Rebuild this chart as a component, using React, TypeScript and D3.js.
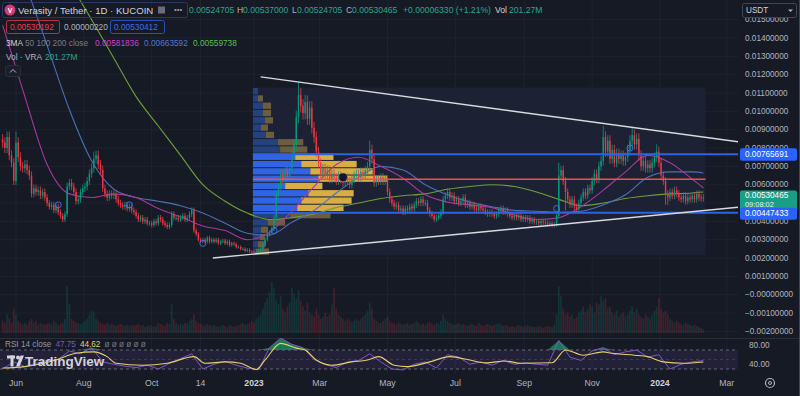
import React from "react";
import * as d3 from "d3";

const DAY = 86400000;
const candleStart = Date.UTC(2022, 4, 20);
const candleStep = 2; // days per candle

// prices in units of 0.001 USDT
const closes = [
  8.3, 8.0, 8.6, 7.6, 7.2, 6.2, 8.3, 7.5, 7.0, 6.9,
  7.1, 6.8, 6.5, 5.5, 5.8, 5.6, 5.7, 5.4, 5.6, 5.3,
  5.0, 4.8, 4.9, 4.6, 4.8, 4.5, 4.3, 4.1, 4.4, 5.9,
  6.1, 5.9, 5.6, 5.1, 5.2, 5.6, 5.8, 5.9, 6.2, 6.6,
  6.9, 7.4, 7.6, 7.1, 6.8, 5.8, 5.5, 5.3, 5.5, 5.4,
  5.5, 5.2, 5.0, 4.9, 4.8, 4.9, 4.7, 4.8, 4.6, 4.5,
  4.3, 4.1, 4.2, 4.0, 4.1, 3.9, 3.9, 3.8, 4.0, 3.9,
  4.2, 4.1, 3.9, 3.8, 3.7, 3.8, 4.4, 4.2, 4.2, 4.1,
  4.2, 4.3, 4.1, 4.2, 4.4, 4.6, 3.5, 3.3, 3.0, 2.9,
  3.0, 2.9, 3.1, 2.9, 3.0, 2.9, 3.0, 2.8, 2.9, 2.95,
  2.8, 2.9, 2.7, 2.8, 2.75, 2.6, 2.6, 2.5, 2.5, 2.4,
  2.45, 2.35, 2.3, 2.25, 2.3, 2.4, 2.5, 2.7, 3.0, 3.3,
  3.4, 3.6, 4.2, 5.5, 5.9, 6.6, 6.2, 6.8, 6.4, 6.9,
  7.6, 8.2, 9.7, 10.9, 10.3, 9.9, 10.5, 9.6, 10.2, 9.1,
  8.6, 7.8, 7.2, 6.6, 6.9, 6.5, 6.8, 6.3, 6.6, 6.4,
  6.2, 6.5, 6.3, 6.1, 6.4, 6.2, 6.0, 6.3, 6.5, 6.6,
  6.4, 6.7, 6.5, 6.8, 7.0, 7.9, 7.4, 6.1, 6.3, 6.2,
  6.4, 6.2, 6.3, 5.6, 5.2, 5.0, 4.8, 4.9, 4.6, 4.7,
  4.5, 4.7, 4.6, 4.8, 4.7, 4.9, 5.1, 5.0, 5.2, 5.0,
  5.0, 4.6, 4.4, 4.3, 4.1, 4.2, 4.3, 4.5, 5.2, 5.4,
  5.6, 5.3, 5.4, 5.1, 5.2, 5.0, 5.1, 5.3, 4.9, 5.0,
  4.8, 4.9, 4.7, 4.6, 4.8, 4.7, 4.6, 4.5, 4.4, 4.5,
  4.4, 4.3, 4.4, 4.6, 4.7, 4.5, 4.6, 4.4, 4.3, 4.2,
  4.3, 4.2, 4.3, 4.1, 4.2, 4.1, 4.2, 4.0, 4.1, 3.95,
  4.0, 3.9, 4.0, 3.95, 3.9, 3.85, 3.9, 3.8, 3.85, 4.3,
  6.5, 6.8, 6.2, 5.6, 5.2, 4.9, 5.2, 4.8, 4.7, 5.0,
  5.3, 5.6, 5.4, 5.8, 5.7, 6.2, 6.6, 6.3, 7.0, 7.3,
  8.6, 7.8, 8.4, 7.4, 7.9, 7.2, 7.7, 7.4, 7.6, 7.3,
  7.5, 7.9, 8.4, 8.7, 8.2, 8.5, 7.6, 7.0, 7.3, 6.9,
  7.1, 6.9, 7.2, 7.5, 7.8, 7.2, 6.5, 6.2, 5.5, 5.3,
  5.6, 5.4, 5.7, 5.5, 5.3, 5.2, 5.4, 5.1, 5.3, 5.2,
  5.4, 5.2, 5.5, 5.3, 5.25, 5.30465,
];

// volume in millions VRA
const volumes = [
  600, 500, 900, 700, 500, 1200, 900, 600, 500, 400,
  500, 400, 600, 700, 500, 600, 400, 500, 450, 400,
  450, 500, 400, 600, 500, 400, 450, 500, 700, 2300,
  1400, 700, 600, 500, 500, 450, 500, 600, 700, 900,
  1100, 1000, 700, 600, 500, 450, 400, 500, 400, 450,
  400, 350, 400, 450, 400, 350, 400, 350, 400, 350,
  400, 450, 350, 400, 300, 350, 400, 350, 300, 350,
  500, 450, 400, 350, 500, 450, 1400, 700, 500, 400,
  450, 400, 500, 450, 600, 700, 900, 600, 500, 450,
  400, 350, 450, 400, 350, 400, 350, 300, 350, 400,
  350, 300, 400, 350, 300, 350, 400, 450, 500, 400,
  450, 500, 600, 500, 700, 800, 900, 1200, 1500, 1700,
  2000, 2500, 2200, 1600, 1400, 1800, 1200, 1000, 1300, 1500,
  2200, 1900, 1700, 2100, 1600, 1300, 1100, 1500, 1000, 900,
  800, 1200, 900, 700, 800, 1000, 800, 900, 1400, 2200,
  1200, 900, 800, 700, 600, 700, 600, 500, 600, 700,
  600, 700, 800, 900, 1100, 1500, 1200, 700, 600, 500,
  500, 600, 700, 800, 600, 500, 450, 400, 500, 450,
  400, 450, 500, 400, 450, 500, 600, 500, 400, 450,
  400, 500, 550, 450, 400, 500, 450, 600, 900, 700,
  600, 500, 450, 400, 450, 500, 400, 450, 400, 350,
  400, 450, 400, 350, 500, 400, 350, 400, 450, 400,
  350, 400, 450, 500, 400, 350, 400, 350, 300, 350,
  300, 350, 400, 350, 300, 350, 400, 350, 300, 300,
  300, 350, 300, 250, 300, 350, 300, 300, 400, 900,
  2300, 1800, 1200, 900, 1000, 800, 900, 700, 800, 1000,
  1100, 1300, 1000, 1200, 1400, 1300, 1000, 1500, 1400, 1800,
  1600, 1700, 1200, 1300, 1000, 900, 1100, 800, 900, 1000,
  800, 900, 1100, 1300, 1000, 1200, 900, 800, 700, 900,
  800, 700, 900, 1100, 1300, 1700, 1200, 1000, 1100, 900,
  700, 600, 500, 600, 500, 450, 400, 500, 450, 400,
  350, 400, 350, 300, 250, 201,
];

// notable wicks [candle index, price]
const spikeHighs = [[6, 8.9], [41, 7.8], [133, 11.6], [136, 10.9], [165, 8.4], [250, 7.2], [270, 9.2], [283, 9.1], [294, 8.2]];
const spikeLows = [[113, 2.15], [253, 4.6], [298, 4.9], [299, 4.9]];

// moving averages, sampled at candle indices
const maIdx = [0, 10, 20, 30, 40, 50, 60, 70, 80, 90, 100, 110, 120, 130, 140, 150, 160, 170, 180, 190, 200, 210, 220, 230, 240, 250, 260, 270, 280, 290, 300, 310, 315];
const ma50 = [14.7, 10.8, 7.1, 5.5, 5.3, 5.5, 5.3, 4.7, 4.25, 3.75, 3.5, 3.0, 3.4, 4.55, 5.9, 7.1, 7.5, 7.0, 6.35, 5.45, 5.05, 4.9, 4.75, 4.35, 4.1, 4.2, 4.8, 5.7, 6.7, 7.6, 7.2, 6.3, 5.82];
const ma100 = [20, 17, 13.6, 10.1, 7.3, 5.75, 5.3, 5.1, 4.85, 4.45, 3.9, 3.35, 3.25, 3.95, 4.6, 5.55, 6.4, 7.0, 6.8, 6.0, 5.45, 5.05, 4.8, 4.6, 4.55, 4.5, 4.55, 4.9, 5.45, 6.4, 6.7, 6.7, 6.64];
const ma200 = [22, 20.5, 18.8, 17, 15.0, 12.9, 10.8, 9.2, 7.6, 6.0, 5.1, 4.45, 4.1, 4.2, 4.4, 4.75, 5.0, 5.25, 5.4, 5.5, 5.75, 5.9, 6.0, 5.9, 5.6, 5.2, 4.85, 5.0, 5.25, 5.4, 5.5, 5.55, 5.6];

// RSI 14, every 5 candles
const rsiIdx = d3.range(0, 315, 5).concat([315]);
const rsi = [30, 45, 35, 42, 48, 50, 68, 62, 75, 45, 40, 36, 33, 38, 30, 42, 52, 62, 30, 40, 46, 38, 32, 28, 75, 95, 82, 75, 50, 40, 33, 45, 48, 62, 45, 30, 28, 40, 45, 32, 60, 55, 40, 45, 38, 48, 40, 43, 40, 38, 90, 55, 48, 68, 75, 60, 66, 70, 55, 60, 30, 40, 45, 47.75];
const rsiMaIdx = [0, 10, 24, 33, 41, 47, 51, 63, 74, 86, 91, 100, 107, 114, 118, 125, 132, 136, 141, 148, 157, 164, 169, 176, 182, 192, 201, 210, 217, 226, 233, 247, 253, 261, 270, 274, 284, 290, 297, 306, 315];
const rsiMa = [32, 35, 49, 63, 66, 56, 42, 38, 42, 56, 42, 45, 42, 29, 49, 84, 74, 70, 49, 38, 45, 49, 56, 38, 35, 45, 56, 49, 43, 47, 42, 43, 70, 59, 66, 63, 59, 56, 45, 42, 44.62];

// visible range volume profile, rows from low to high price
const profileLow = 2.15;
const profileHigh = 11.3;
const profileUp = [3, 5, 7, 8, 15, 37, 44, 48, 55, 32, 65, 57, 48, 42, 27, 25, 13, 8, 12, 10, 10, 5, 5];
const profileDown = [13, 7, 5, 7, 17, 40, 46, 50, 45, 37, 68, 62, 55, 38, 27, 25, 8, 7, 8, 8, 8, 5, 0];
const profileStart = Date.UTC(2022, 11, 31);
const profileEnd = Date.UTC(2024, 1, 11);
const vah = 7.65691;
const val = 4.47433;
const poc = 6.3;
const lastPrice = 5.30465;

const upperTrend = [[Date.UTC(2023, 0, 7), 11.88], [Date.UTC(2024, 2, 13), 8.33]];
const lowerTrend = [[Date.UTC(2022, 10, 25), 2.0], [Date.UTC(2024, 2, 13), 4.78]];

const crossMarks = [[25, 4.9], [57, 4.9], [90, 2.8], [122, 3.5], [249, 4.7], [282, 8.0]];

const priceTicks = d3.range(-2, 16);
const timeTicks = [
  [Date.UTC(2022, 5, 1), "Jun"], [Date.UTC(2022, 7, 1), "Aug"], [Date.UTC(2022, 9, 1), "Oct"],
  [Date.UTC(2022, 10, 14), "14"], [Date.UTC(2023, 0, 1), "2023"], [Date.UTC(2023, 2, 1), "Mar"],
  [Date.UTC(2023, 4, 1), "May"], [Date.UTC(2023, 6, 1), "Jul"], [Date.UTC(2023, 8, 1), "Sep"],
  [Date.UTC(2023, 10, 1), "Nov"], [Date.UTC(2024, 0, 1), "2024"], [Date.UTC(2024, 2, 1), "Mar"],
];

const BG = "#161a25";
const GRID = "#1f2331";
const UP = "#089981";
const DOWN = "#f23645";
const TXT = "#b2b5be";
const FONT = "'Liberation Sans', Arial, sans-serif";
const PANE_R = 738;
const LF = 8.3; // legend font size

function fmtPrice(v: number) {
  const s = (Math.abs(v) / 1000).toFixed(8);
  return v <= 0 ? "\u2212" + s : s;
}

export default function App() {
  const x = d3.scaleUtc().domain([Date.UTC(2023, 0, 1), Date.UTC(2024, 0, 1)]).range([254, 660]);
  const y = d3.scaleLinear().domain([0, 14]).range([294.7, 38]);
  const yVol = d3.scaleLinear().domain([0, 2500]).range([333, 282]);
  const yRsi = d3.scaleLinear().domain([30, 70]).range([369, 350]);
  const cx = (i: number) => x(candleStart + i * candleStep * DAY);

  const candles = closes.map((c, i) => {
    const o = i > 0 ? closes[i - 1] : c * 1.02;
    let hi = Math.max(o, c) * 1.035;
    let lo = Math.min(o, c) * 0.965;
    const sh = spikeHighs.find((s) => s[0] === i);
    const sl = spikeLows.find((s) => s[0] === i);
    if (sh) hi = sh[1];
    if (sl) lo = sl[1];
    return { i, o, c, hi, lo, up: c >= o };
  });

  const maLine = (vals: number[]) =>
    d3.line<number>().x((_, k) => cx(maIdx[k])).y((v) => y(v)).curve(d3.curveMonotoneX)(vals) || "";

  const rsiLine = d3.line<number>().x((_, k) => cx(rsiIdx[k])).y((v) => yRsi(v))(rsi) || "";
  const rsiOb = d3.area<number>().x((_, k) => cx(rsiIdx[k])).y0(yRsi(70)).y1((v) => yRsi(Math.max(v, 70)))(rsi) || "";
  const rsiMaLine = d3.line<number>().x((_, k) => cx(rsiMaIdx[k])).y((v) => yRsi(v)).curve(d3.curveMonotoneX)(rsiMa) || "";

  const rowH = (profileHigh - profileLow) / profileUp.length;
  const maxTot = d3.max(profileUp.map((u, k) => u + profileDown[k])) || 1;
  const pw = d3.scaleLinear().domain([0, maxTot]).range([0, 134]);
  const px0 = x(profileStart);

  const trend = (t: number[][]) => ({ x1: x(t[0][0]), y1: y(t[0][1]), x2: x(t[1][0]), y2: y(t[1][1]) });
  const ut = trend(upperTrend);
  const lt = trend(lowerTrend);

  // axis labels hidden behind the last price tag
  const axisTicks = priceTicks.filter((v) => Math.abs(y(v) - (y(lastPrice) + 4)) > 9);

  const cw = 1.4;

  return (
    <svg width={800} height={396} style={{ position: "absolute", left: 0, top: 0, background: BG }} fontFamily={FONT}>
      <defs>
        <clipPath id="mainClip"><rect x={0} y={0} width={PANE_R} height={338} /></clipPath>
        <clipPath id="rsiClip"><rect x={0} y={338} width={PANE_R} height={36} /></clipPath>
      </defs>
      <rect x={0} y={0} width={800} height={396} fill={BG} />

      {/* grid */}
      {priceTicks.map((v) => (
        <line key={"hg" + v} x1={0} x2={PANE_R} y1={y(v)} y2={y(v)} stroke={GRID} strokeWidth={1} />
      ))}
      {timeTicks.map((t, k) => (
        <line key={"vg" + k} x1={x(t[0] as number)} x2={x(t[0] as number)} y1={0} y2={374} stroke={GRID} strokeWidth={1} />
      ))}

      <g clipPath="url(#mainClip)">
        {/* volume */}
        {candles.map((d) => (
          <rect key={"v" + d.i} x={cx(d.i) - 0.9} width={1.8} y={yVol(volumes[d.i])} height={333 - yVol(volumes[d.i])}
            fill={d.up ? UP : DOWN} opacity={0.2} />
        ))}

        {/* volume profile */}
        <rect x={px0} y={y(profileHigh)} width={x(profileEnd) - px0} height={y(profileLow) - y(profileHigh)} fill="#1c2233" />
        {profileUp.map((u, k) => {
          const lo = profileLow + k * rowH;
          const mid = lo + rowH / 2;
          const inVa = mid >= val && mid <= vah;
          const yt = y(lo + rowH) + 0.5;
          const h = y(lo) - y(lo + rowH) - 1;
          return (
            <g key={"p" + k}>
              <rect x={px0} y={yt} width={pw(u)} height={h} fill={inVa ? "#2f65e4" : "#24427f"} />
              <rect x={px0 + pw(u)} y={yt} width={pw(profileDown[k])} height={h} fill={inVa ? "#d9ad46" : "#6b5d3e"} />
            </g>
          );
        })}

        {/* moving averages */}
        <path d={maLine(ma200)} fill="none" stroke="#6f9f3c" strokeWidth={1.1} />
        <path d={maLine(ma100)} fill="none" stroke="#4b6fb8" strokeWidth={1.1} />
        <path d={maLine(ma50)} fill="none" stroke="#a8379f" strokeWidth={1.1} />

        {/* candles */}
        {candles.map((d) => (
          <g key={"c" + d.i}>
            <line x1={cx(d.i)} x2={cx(d.i)} y1={y(d.hi)} y2={y(d.lo)} stroke={d.up ? UP : DOWN} strokeWidth={0.8} />
            <rect x={cx(d.i) - cw / 2} width={cw} y={y(Math.max(d.o, d.c))}
              height={Math.max(1, Math.abs(y(d.o) - y(d.c)))} fill={d.up ? UP : DOWN} />
          </g>
        ))}

        {/* value area & poc */}
        <line x1={px0} x2={PANE_R} y1={y(vah)} y2={y(vah)} stroke="#2f62e0" strokeWidth={2} />
        <line x1={px0} x2={PANE_R} y1={y(val)} y2={y(val)} stroke="#2f62e0" strokeWidth={2} />
        <line x1={px0} x2={x(profileEnd)} y1={y(poc)} y2={y(poc)} stroke="#f0504a" strokeWidth={1.5} />

        {/* trend lines */}
        <line {...ut} stroke="#d8dae0" strokeWidth={1.4} />
        <line {...lt} stroke="#d8dae0" strokeWidth={1.4} />

        {crossMarks.map((m, k) => (
          <circle key={"m" + k} cx={cx(m[0])} cy={y(m[1])} r={3} fill="none" stroke="#3a6ff0" strokeWidth={1} />
        ))}
        <circle cx={343} cy={y(poc) - 2} r={4} fill="#101733" />
      </g>

      {/* pane separator */}
      <line x1={0} x2={800} y1={338.5} y2={338.5} stroke="#2a2e39" />

      {/* RSI pane */}
      <g clipPath="url(#rsiClip)">
        <rect x={0} y={yRsi(70)} width={PANE_R} height={yRsi(30) - yRsi(70)} fill="#7e57c2" opacity={0.12} />
        <line x1={0} x2={PANE_R} y1={yRsi(70)} y2={yRsi(70)} stroke="#787b86" strokeDasharray="3,3" opacity={0.8} />
        <line x1={0} x2={PANE_R} y1={yRsi(50)} y2={yRsi(50)} stroke="#787b86" strokeDasharray="3,3" opacity={0.3} />
        <line x1={0} x2={PANE_R} y1={yRsi(30)} y2={yRsi(30)} stroke="#787b86" strokeDasharray="3,3" opacity={0.8} />
        <path d={rsiOb} fill="#1d8f62" opacity={0.8} />
        <path d={rsiLine} fill="none" stroke="#7e57c2" strokeWidth={1} />
        <path d={rsiMaLine} fill="none" stroke="#e3cf6b" strokeWidth={1.1} />
      </g>
      <text x={5} y={344} fontSize={8.2} dominantBaseline="central" fill="#9598a1">
        RSI 14 close
        <tspan dx={4} fill="#7e57c2">47.75</tspan>
        <tspan dx={4} fill="#e3cf6b">44.62</tspan>
        <tspan dx={4} fill="#787b86">ø ø ø ø ø ø</tspan>
      </text>

      {/* TradingView logo */}
      <g fill="#d1d4dc">
        <rect x={7} y={355.5} width={8} height={3} />
        <rect x={10.5} y={355.5} width={3} height={11} />
        <circle cx={18} cy={357.5} r={2} />
        <polygon points="20.5,355.5 24,355.5 19.5,366.5 16,366.5" />
        <text x={25} y={366} fontSize={13.5} fontWeight="bold">TradingView</text>
      </g>

      {/* right price axis */}
      {axisTicks.map((v) => (
        <text key={"pt" + v} x={745} y={y(v)} fontSize={8.2} dominantBaseline="central" fill={TXT}>{fmtPrice(v)}</text>
      ))}
      <text x={749} y={yRsi(80)} fontSize={8.2} dominantBaseline="central" fill={TXT}>80.00</text>
      <text x={749} y={yRsi(40)} fontSize={8.2} dominantBaseline="central" fill={TXT}>40.00</text>

      {/* price tags */}
      <rect x={740} y={y(vah) - 6} width={57} height={12.5} rx={2} fill="#2962ff" />
      <text x={745} y={y(vah) + 0.5} fontSize={8.2} dominantBaseline="central" fill="#fff">{(vah / 1000).toFixed(8)}</text>
      <rect x={740} y={y(lastPrice) - 7} width={57} height={22} rx={2} fill="#1a9e87" />
      <text x={745} y={y(lastPrice) - 1.5} fontSize={8.2} dominantBaseline="central" fill="#fff">{(lastPrice / 1000).toFixed(8)}</text>
      <text x={745} y={y(lastPrice) + 6.8} fontSize={7.4} dominantBaseline="central" fill="#e8f4f1">09:08:02</text>
      <rect x={740} y={y(val) - 5} width={57} height={12} rx={2} fill="#2962ff" />
      <text x={745} y={y(val) + 1.2} fontSize={8.2} dominantBaseline="central" fill="#fff">{(val / 1000).toFixed(8)}</text>

      {/* USDT selector */}
      <rect x={742.5} y={3.5} width={54} height={14} rx={2} fill={BG} stroke="#434651" />
      <text x={746} y={10.5} fontSize={8.2} dominantBaseline="central" fill="#d1d4dc">USDT</text>
      <path d="M788,9.5 l2.5,2.5 l2.5,-2.5 z" fill="#b2b5be" />

      {/* time axis */}
      {timeTicks.map((t, k) => {
        const bold = t[1] === "2023" || t[1] === "2024";
        return (
          <text key={"tt" + k} x={x(t[0] as number)} y={383} fontSize={8.7} textAnchor="middle" dominantBaseline="central"
            fill={bold ? "#d1d4dc" : TXT} fontWeight={bold ? "bold" : "normal"}>{t[1]}</text>
        );
      })}
      <circle cx={770} cy={383} r={4.5} fill="none" stroke="#b2b5be" strokeWidth={1.2} />
      <circle cx={770} cy={383} r={1.5} fill="none" stroke="#b2b5be" strokeWidth={1} />

      {/* collapse button */}
      <rect x={5.5} y={65.5} width={15} height={11} rx={2} fill="#1b1f2b" stroke="#2a2e39" />
      <path d="M10,72.5 l3,-3 l3,3" fill="none" stroke="#b2b5be" strokeWidth={1} />

      {/* legend */}
      <rect x={2.5} y={2.5} width={185} height={15} rx={2} fill="none" stroke="#2a3766" />
      <circle cx={10} cy={10} r={5.5} fill="#d23a78" />
      <text x={10} y={10.5} fontSize={7} fontWeight="bold" textAnchor="middle" dominantBaseline="central" fill="#fff">V</text>
      <text x={18} y={10} fontSize={9.6} dominantBaseline="central" fill="#d1d4dc">Verasity / Tether · 1D · KUCOIN</text>
      <rect x={158} y={6.5} width={7} height={7} fill="#6a6d78" />
      <text x={174} y={9.5} fontSize={8} dominantBaseline="central" fill="#9598a1">•••</text>
      <g fontSize={8.6} fill="#2aa58f">
        <text x={189} y={10} dominantBaseline="central">0.00524705</text>
        <text x={237} y={10} dominantBaseline="central" fill="#b2b5be">H</text>
        <text x={243} y={10} dominantBaseline="central">0.00537000</text>
        <text x={292} y={10} dominantBaseline="central" fill="#b2b5be">L</text>
        <text x={297} y={10} dominantBaseline="central">0.00524705</text>
        <text x={346} y={10} dominantBaseline="central" fill="#b2b5be">C</text>
        <text x={352} y={10} dominantBaseline="central">0.00530465</text>
        <text x={403} y={10} dominantBaseline="central">+0.00006330 (+1.21%)</text>
        <text x={495} y={10} dominantBaseline="central" fill="#d1d4dc">Vol</text>
        <text x={509} y={10} dominantBaseline="central">201.27M</text>
      </g>
      <rect x={6.5} y={20.5} width={53} height={13} rx={2} fill="none" stroke="#b8323e" />
      <text x={10} y={27} fontSize={LF} dominantBaseline="central" fill="#f23645">0.00530192</text>
      <text x={64} y={27} fontSize={LF} dominantBaseline="central" fill="#b2b5be">0.00000220</text>
      <rect x={110.5} y={20.5} width={54} height={13} rx={2} fill="none" stroke="#2a4fb8" />
      <text x={114} y={27} fontSize={LF} dominantBaseline="central" fill="#3d6cf0">0.00530412</text>
      <text x={6} y={43} fontSize={LF} dominantBaseline="central" fill="#d1d4dc">
        3MA<tspan fill="#787b86"> 50 100 200 close</tspan>
      </text>
      <text x={95} y={43} fontSize={LF} dominantBaseline="central" fill="#d23fcf">0.00581836</text>
      <text x={144} y={43} fontSize={LF} dominantBaseline="central" fill="#4f78d6">0.00663592</text>
      <text x={193} y={43} fontSize={LF} dominantBaseline="central" fill="#55c24a">0.00559738</text>
      <text x={6} y={57} fontSize={LF} dominantBaseline="central" fill="#b2b5be">Vol · VRA</text>
      <text x={45} y={57} fontSize={LF} dominantBaseline="central" fill="#2aa58f">201.27M</text>

      <line x1={799.5} x2={799.5} y1={0} y2={396} stroke="#4d4a22" />
    </svg>
  );
}
